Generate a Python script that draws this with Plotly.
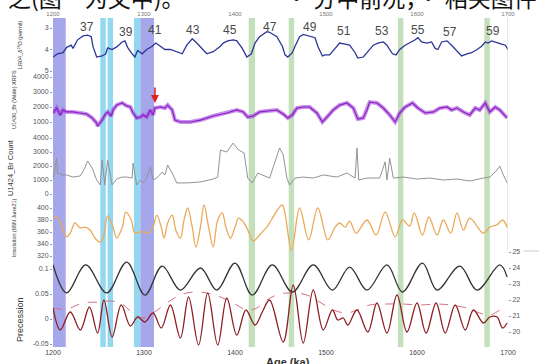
import plotly.graph_objects as go

# ---------------- data (ages in ka) ----------------
d18o_age = [1200,1205,1211,1215,1220,1222,1227,1233,1238,1242,1244,1248,1254,1258,1260,1265,1270,1276,1279,1282,1287,1290,1293,1298,1303,1309,1313,1318,1323,1329,1336,1342,1347,1353,1358,1364,1369,1376,1384,1387,1392,1398,1402,1408,1413,1418,1422,1427,1435,1438,1446,1452,1455,1458,1463,1466,1471,1475,1480,1485,1488,1491,1496,1499,1504,1510,1515,1521,1526,1532,1535,1541,1546,1552,1557,1563,1567,1573,1577,1581,1587,1592,1598,1601,1605,1611,1616,1620,1623,1627,1633,1638,1644,1649,1655,1660,1666,1671,1675,1678,1682,1688,1693,1697,1700]
d18o_val = [4.35,4.2,4.15,3.9,3.8,3.95,3.55,3.37,3.33,3.4,3.87,4.35,4.3,4.2,3.92,4.0,3.88,3.65,3.6,3.9,4.2,4.35,4.05,4.2,4.0,3.85,3.7,3.85,4.0,4.0,4.1,4.2,3.8,3.5,3.7,4.0,4.2,4.1,3.85,3.7,3.6,3.55,3.6,3.95,4.35,4.2,3.7,3.4,3.17,3.2,3.4,3.85,4.25,4.35,4.15,3.85,3.4,3.3,3.35,3.4,3.45,3.85,4.3,4.25,4.25,3.95,3.7,3.75,3.8,4.15,4.4,4.35,4.1,3.8,3.7,3.65,3.8,4.2,4.25,4.0,3.8,3.7,3.55,3.45,3.65,3.7,3.65,3.95,4.0,3.65,3.6,3.8,4.1,4.3,4.2,4.15,4.0,3.85,3.65,3.7,3.6,3.7,3.75,3.8,4.0]

br_wide_age = [1200,1204,1208,1211,1215,1222,1230,1237,1243,1248,1249,1254,1257,1260,1264,1266,1270,1276,1281,1285,1288,1292,1296,1299,1303,1307,1310,1312,1318,1323,1326,1331,1334,1340,1351,1362,1376,1391,1402,1409,1414,1420,1427,1435,1446,1453,1458,1463,1468,1475,1482,1490,1496,1501,1508,1515,1523,1530,1535,1541,1545,1548,1556,1563,1570,1576,1581,1587,1595,1601,1609,1618,1625,1633,1638,1644,1651,1658,1664,1669,1675,1680,1686,1691,1699]
br_wide_val = [1600,1930,1470,1800,1670,1670,1600,1530,1270,930,730,1130,1470,1670,1400,1800,2130,2270,2070,2000,1600,1270,1330,1470,1330,1800,1470,1930,2000,1930,2130,1800,1130,1000,1000,1130,1400,1600,1800,1670,1330,1400,1670,1730,1800,1530,1270,1470,1930,2000,2000,1600,1000,1330,1800,2130,2270,1930,1200,1270,1800,2330,2270,1930,1470,1000,1600,2000,2270,1930,1600,1670,1930,2000,1800,1930,1670,1470,1930,1800,2270,1670,2000,1800,1270]

br_count_age = [1200,1204,1205,1210,1215,1222,1230,1235,1238,1243,1248,1252,1254,1257,1260,1265,1270,1276,1281,1287,1288,1292,1296,1299,1303,1307,1310,1314,1320,1323,1326,1331,1336,1347,1362,1376,1381,1384,1391,1398,1404,1410,1414,1419,1425,1431,1435,1438,1442,1446,1449,1453,1457,1460,1466,1475,1486,1497,1512,1523,1532,1534,1536,1545,1559,1565,1567,1570,1574,1585,1600,1614,1629,1644,1658,1673,1680,1688,1691,1694,1699]
br_count_val = [1000,2570,1500,1360,1360,1210,1290,1860,2360,1860,1000,640,2430,640,2430,640,1070,1210,1210,1140,2210,640,1000,790,1140,1930,1000,1140,1570,1360,2070,1500,790,790,860,1070,1210,3140,3000,3640,3140,2930,1140,790,1500,1360,1210,1140,1930,2790,3290,2790,1140,640,1140,1210,1140,1360,1210,1500,1140,3290,1000,1140,1140,2290,1000,2570,1140,1210,1070,1140,1000,1070,930,1140,1210,1710,2000,1500,790]

insol_age = [1200,1204,1208,1211,1215,1219,1224,1230,1235,1241,1246,1252,1256,1260,1266,1270,1276,1280,1286,1290,1295,1301,1305,1310,1314,1319,1322,1326,1331,1335,1340,1344,1348,1353,1357,1362,1366,1371,1376,1381,1386,1390,1395,1400,1404,1410,1415,1420,1427,1435,1438,1446,1452,1462,1471,1481,1491,1502,1510,1515,1521,1526,1533,1545,1555,1565,1576,1584,1592,1597,1606,1613,1622,1629,1637,1644,1651,1658,1673,1680,1688,1694,1699]
insol_val = [383,385,377,363,352,358,375,367,368,363,350,343,355,387,368,350,367,393,380,358,360,360,358,368,388,368,350,375,388,363,350,380,400,368,335,368,405,368,335,380,392,368,350,368,383,375,360,345,355,368,375,395,405,330,400,347,400,347,368,375,368,378,358,380,355,393,352,380,370,392,355,385,355,380,358,392,363,383,358,368,372,380,368]

obliq_age = [1200,1215,1236,1259,1281,1301,1320,1340,1362,1380,1400,1419,1441,1463,1486,1507,1526,1545,1567,1584,1606,1622,1647,1666,1691,1699]
obliq_val = [24.2,22.44,24.19,22.44,24.37,22.31,24.12,22.62,24.0,22.62,24.31,22.31,24.19,22.5,24.19,22.62,24.06,22.62,24.19,22.5,24.31,22.62,24.12,22.62,24.19,23.44]

prec_age = [1200,1208,1219,1230,1240,1249,1256,1265,1275,1285,1293,1301,1310,1319,1329,1340,1349,1360,1370,1381,1391,1402,1412,1422,1430,1438,1453,1464,1475,1486,1497,1507,1513,1519,1524,1534,1546,1556,1567,1578,1589,1600,1610,1621,1631,1642,1653,1662,1673,1680,1688,1694,1699]
prec_val = [0.022,-0.022,0.014,-0.022,0.024,-0.028,0.038,-0.036,0.028,-0.014,0.004,-0.006,0.012,-0.018,0.028,-0.038,0.044,-0.052,0.052,-0.052,0.042,-0.032,0.018,-0.012,0.014,0.038,-0.046,0.068,-0.048,0.058,-0.022,0.018,-0.002,0.002,-0.012,0.018,-0.026,0.032,-0.028,0.048,-0.026,0.032,-0.028,0.032,-0.028,0.028,-0.022,0.018,-0.008,0.004,0.004,-0.018,-0.008]

ecc_age = [1200,1215,1233,1252,1263,1274,1288,1299,1310,1325,1340,1354,1369,1384,1398,1413,1424,1435,1449,1464,1479,1493,1508,1523,1534,1548,1567,1585,1603,1622,1636,1655,1669,1680,1691,1699]
ecc_val = [0.022,0.02,0.032,0.034,0.036,0.032,0.012,0.002,0.012,0.032,0.048,0.054,0.052,0.044,0.032,0.018,0.022,0.038,0.05,0.052,0.048,0.034,0.018,0.012,0.018,0.028,0.03,0.03,0.028,0.03,0.028,0.022,0.012,0.008,0.018,0.028]

mis_labels = ["37","39","41","43","45","47","49","51","53","55","57","59"]
mis_age = [1237,1280,1312,1354,1395,1438,1482,1520,1562,1601,1636,1683]
mis_ypx = [27,32,30,30,30,27,27,31,31,30,32,31]

band_start = [1200,1252,1260,1289,1296,1415,1459,1579,1674]
band_end = [1214,1258,1266,1296,1311,1422,1465,1585,1680]
band_kind = ["purple","cyan","cyan","cyan","purple","green","green","green","green"]

age_ticks = [1200,1300,1400,1500,1600,1700]

# ---------------- geometry ----------------
W, H = 539, 364
ML, MR, MT, MB = 53, 31, 18, 17
PT, PB = MT, H - MB          # plot top / bottom in px
PH = PB - PT

def rng(v0, y0, per_px):
    """axis range for value v0 at pixel y0; per_px = value change per pixel downward"""
    return [v0 + (PB - y0) * per_px, v0 + (PT - y0) * per_px]

def py(ypx):
    return (PB - ypx) / PH

def px(xpx):
    return (xpx - ML) / (W - ML - MR)

fig = go.Figure()

band_col = {"purple": "rgba(150,150,232,0.85)", "cyan": "rgba(135,212,238,0.9)", "green": "rgba(190,220,180,0.9)"}
shapes = []
for s, e, k in zip(band_start, band_end, band_kind):
    shapes.append(dict(type="rect", xref="x", yref="paper", x0=s, x1=e, y0=0, y1=1,
                       fillcolor=band_col[k], line_width=0, layer="below"))
shapes.append(dict(type="line", xref="x", yref="paper", x0=1700, x1=1700, y0=py(250), y1=1,
                   line=dict(color="#cfcfcf", width=1)))
shapes.append(dict(type="line", xref="paper", yref="paper", x0=px(523), x1=px(539), y0=py(251), y1=py(251),
                   line=dict(color="#cfcfcf", width=1)))

fig.add_trace(go.Scatter(x=d18o_age, y=d18o_val, yaxis="y", mode="lines",
                         line=dict(color="#2b3596", width=1.3)))
fig.add_trace(go.Scatter(x=br_wide_age, y=br_wide_val, yaxis="y2", mode="lines",
                         line=dict(color="rgba(165,70,220,0.6)", width=4)))
fig.add_trace(go.Scatter(x=br_wide_age, y=br_wide_val, yaxis="y2", mode="lines",
                         line=dict(color="#8a1fc4", width=1.2)))
fig.add_trace(go.Scatter(x=br_count_age, y=br_count_val, yaxis="y3", mode="lines",
                         line=dict(color="#939393", width=1)))
fig.add_trace(go.Scatter(x=insol_age, y=insol_val, yaxis="y4", mode="lines", line_shape="spline",
                         line=dict(color="#eaaa5a", width=1.3)))
fig.add_trace(go.Scatter(x=obliq_age, y=obliq_val, yaxis="y5", mode="lines", line_shape="spline",
                         line=dict(color="#333333", width=1.3)))
fig.add_trace(go.Scatter(x=ecc_age, y=ecc_val, yaxis="y6", mode="lines", line_shape="spline",
                         line=dict(color="#d4707e", width=1, dash="dash")))
fig.add_trace(go.Scatter(x=prec_age, y=prec_val, yaxis="y6", mode="lines", line_shape="spline",
                         line=dict(color="#8e1f24", width=1.3)))

tf = dict(size=7, color="#555555", family="Liberation Sans")
common = dict(showgrid=False, zeroline=False, ticks="outside", ticklen=2, tickcolor="#999",
              tickfont=tf, showline=False, fixedrange=True)

layout = dict(
    width=W, height=H, margin=dict(l=ML, r=MR, t=MT, b=MB, autoexpand=False),
    paper_bgcolor="white", plot_bgcolor="white", showlegend=False,
    xaxis=dict(range=[1200, 1700], tickvals=age_ticks, showgrid=False, zeroline=False,
               ticks="", tickfont=dict(size=7, color="#444", family="Liberation Sans"),
               ticklabelstandoff=0),
    xaxis2=dict(range=[1200, 1700], tickvals=age_ticks, overlaying="x", side="top",
                showgrid=False, zeroline=False, ticks="",
                tickfont=dict(size=6, color="#777", family="Liberation Sans")),
    yaxis=dict(range=rng(3, 28, 1/21.5), tickvals=[3, 4, 5], **common),
    yaxis2=dict(range=rng(1000, 122, -1000/15), tickvals=[1000, 2000, 3000, 4000],
                overlaying="y", **common),
    yaxis3=dict(range=rng(0, 194, -1000/14), tickvals=[0, 1000, 2000, 3000, 4000],
                overlaying="y", **common),
    yaxis4=dict(range=rng(400, 208, -80/48), tickvals=[320, 340, 360, 380, 400],
                overlaying="y", **common),
    yaxis5=dict(range=rng(25, 252, -1/16), tickvals=[19, 20, 21, 22, 23, 24, 25],
                overlaying="y", side="right", anchor="x", **common),
    yaxis6=dict(range=rng(0, 319, -0.002), tickvals=[-0.05, 0, 0.05, 0.1],
                ticktext=["-0.05", "0", "0.05", "0.1"], overlaying="y", **common),
    shapes=shapes,
)
fig.update_layout(**layout)
# dummy trace so the top axis is drawn
fig.add_trace(go.Scatter(x=[1200], y=[None], xaxis="x2", yaxis="y", showlegend=False))

C = dict(xanchor="center", yanchor="middle")
ann = []
for t, a, yp in zip(mis_labels, mis_age, mis_ypx):
    ann.append(dict(text=t, x=a, y=py(yp), xref="x", yref="paper", showarrow=False,
                    font=dict(size=12, color="#4a4a4a", family="Liberation Sans"), **C))
ann.append(dict(x=1312, y=py(103), xref="x", yref="paper", ax=0, ay=-17, showarrow=True,
                arrowhead=2, arrowsize=1, arrowwidth=1.6, arrowcolor="#e02020", text=""))
ytitles = [("LR04_δ<sup>18</sup>O (permil)", 20, 45, 5.5),
           ("U1430_Br (Wide) XRFS", 14, 100, 5.5),
           ("U1424_Br Count", 10, 168, 7.5),
           ("Insolation (65N June21)", 14, 228, 5.5),
           ("Precession", 20, 320, 9)]
for t, xp, yp, fs in ytitles:
    ann.append(dict(text=t, x=px(xp), y=py(yp), xref="paper", yref="paper", showarrow=False,
                    textangle=-90, font=dict(size=fs, color="#333", family="Liberation Sans"), **C))
ann.append(dict(text="<b>Age (ka)</b>", x=px(288), y=py(362), xref="paper", yref="paper", showarrow=False,
                font=dict(size=11, color="#333", family="Liberation Sans"), **C))
ann.append(dict(text="之(图一为文中)。", x=px(6), y=py(-3), xref="paper", yref="paper",
                showarrow=False, xanchor="left", yanchor="middle",
                font=dict(size=23, color="#111", family="Noto Sans CJK SC")))
ann.append(dict(text="· 分中前况，· 相关图件", x=px(539), y=py(-3), xref="paper", yref="paper",
                showarrow=False, xanchor="right", yanchor="middle",
                font=dict(size=23, color="#111", family="Noto Sans CJK SC")))
fig.update_layout(annotations=ann)

fig.write_html("out.html", config={"displayModeBar": False},
               post_script="document.body.style.margin='0';document.body.style.padding='0';")
